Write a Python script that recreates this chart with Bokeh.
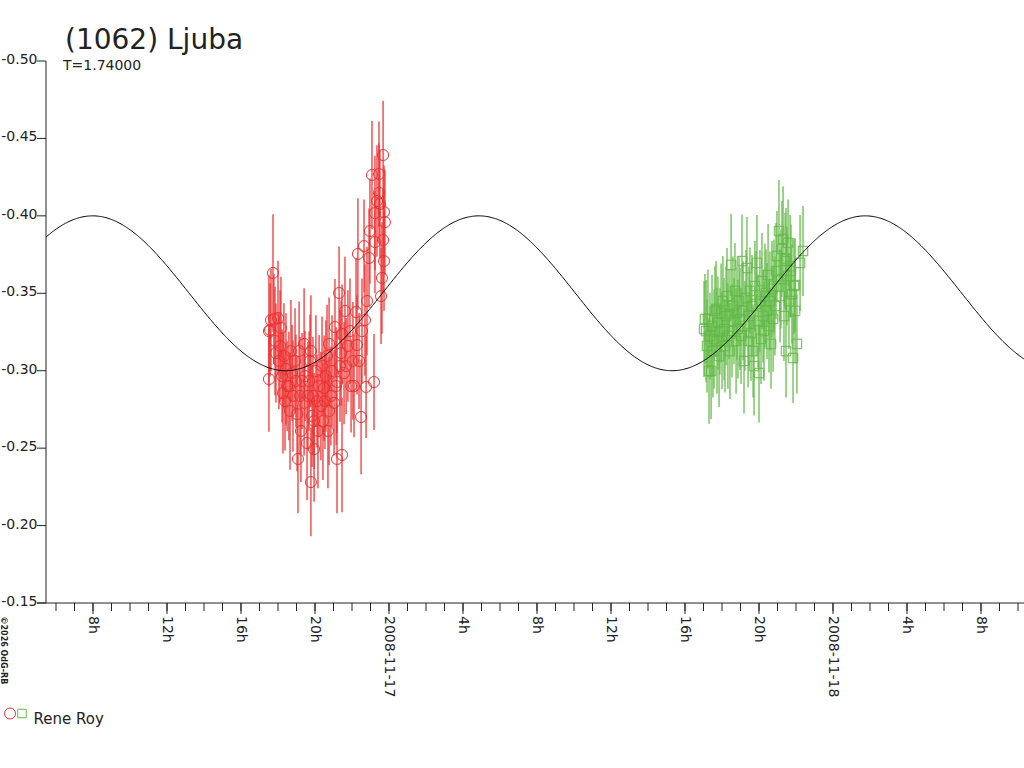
import math
import numpy as np
from bokeh.plotting import figure
from bokeh.models import ColumnDataSource, Range1d, Label
from bokeh.core.properties import value
from bokeh.embed import file_html
from bokeh.resources import INLINE

TITLE = "(1062) Ljuba"
PERIOD_TEXT = "T=1.74000"
OBSERVER = "Rene Roy"
COPYRIGHT = "\u00a92026 OdG-RB"

# time axis: hours since 2008-11-17 00:00 UT ; y: relative magnitude
RED_HOURS = [
    -6.49, -6.49, -6.43, -6.38, -6.27, -6.22, -6.16, -6.11, -6.00, -5.95,
    -5.89, -5.84, -5.78, -5.73, -5.68, -5.62, -5.57, -5.51, -5.41, -5.35,
    -5.30, -5.24, -5.19, -5.08, -5.03, -4.97, -4.92, -4.86, -4.81, -4.76,
    -4.70, -4.59, -4.59, -4.54, -4.43, -4.38, -4.32, -4.27, -4.22, -4.22,
    -4.16, -4.11, -4.05, -4.05, -3.95, -3.89, -3.84, -3.78, -3.68, -3.62,
    -3.57, -3.51, -3.46, -3.41, -3.35, -3.30, -3.24, -3.24, -3.14, -3.08,
    -2.97, -2.92, -2.86, -2.81, -2.81, -2.70, -2.65, -2.59, -2.54, -2.54,
    -2.43, -2.38, -2.32, -2.22, -2.11, -2.05, -1.95, -1.89, -1.78, -1.73,
    -1.68, -1.62, -1.51, -1.46, -1.35, -1.30, -1.24, -1.19, -1.08, -1.03,
    -0.92, -0.81, -0.76, -0.76, -0.65, -0.54, -0.54, -0.49, -0.43, -0.38,
    -0.32, -0.32, -0.27, -0.22, -0.27,
]
RED_MAG = [
    -0.2946, -0.3256, -0.3263, -0.3327, -0.3631, -0.3334, -0.3192, -0.3114, -0.3340, -0.3063,
    -0.3160, -0.3276, -0.2966, -0.2856, -0.3095, -0.2804, -0.3011, -0.2901, -0.2901, -0.2740,
    -0.3127, -0.2985, -0.2837, -0.3063, -0.2934, -0.2720, -0.2430, -0.3127, -0.2837, -0.2611,
    -0.2934, -0.3173, -0.2792, -0.2966, -0.2533, -0.2837, -0.2934, -0.3063, -0.3127, -0.2281,
    -0.2708, -0.2837, -0.2675, -0.2494, -0.2998, -0.2804, -0.2611, -0.2901, -0.2772, -0.3030,
    -0.2675, -0.2888, -0.2804, -0.2966, -0.3095, -0.2611, -0.3173, -0.2740, -0.2837, -0.2998,
    -0.2792, -0.3282, -0.2901, -0.2927, -0.2430, -0.3502, -0.3030, -0.3114, -0.3237, -0.2456,
    -0.2985, -0.3386, -0.3030, -0.3160, -0.3256, -0.2901, -0.3063, -0.2901, -0.3379, -0.3166,
    -0.3754, -0.3063, -0.2701, -0.3256, -0.3805, -0.3327, -0.2895, -0.3450, -0.3728, -0.3902,
    -0.4264, -0.2927, -0.4018, -0.3831, -0.4096, -0.4270, -0.4148, -0.4077, -0.3482, -0.3599,
    -0.3844, -0.4393, -0.4025, -0.3960, -0.3708,
]
RED_ERR = [
    0.034, 0.036, 0.030, 0.033, 0.038, 0.029, 0.035, 0.032, 0.037, 0.031,
    0.036, 0.033, 0.030, 0.039, 0.034, 0.032, 0.036, 0.029, 0.035, 0.038,
    0.033, 0.031, 0.036, 0.034, 0.030, 0.037, 0.035, 0.032, 0.038, 0.033,
    0.031, 0.036, 0.034, 0.029, 0.037, 0.035, 0.032, 0.030, 0.036, 0.035,
    0.033, 0.038, 0.031, 0.034, 0.036, 0.030, 0.037, 0.033, 0.035, 0.032,
    0.038, 0.034, 0.031, 0.036, 0.033, 0.037, 0.030, 0.035, 0.032, 0.036,
    0.034, 0.031, 0.038, 0.033, 0.035, 0.030, 0.036, 0.034, 0.032, 0.037,
    0.033, 0.035, 0.031, 0.036, 0.034, 0.030, 0.038, 0.033, 0.035, 0.032,
    0.036, 0.031, 0.037, 0.034, 0.030, 0.036, 0.033, 0.035, 0.032, 0.034,
    0.035, 0.031, 0.037, 0.033, 0.036, 0.034, 0.032, 0.035, 0.031, 0.036,
    0.033, 0.035, 0.030, 0.034, 0.032,
]

GREEN_HOURS = [
    17.03, 17.08, 17.14, 17.19, 17.24, 17.30, 17.35, 17.41, 17.46, 17.51,
    17.57, 17.62, 17.68, 17.73, 17.78, 17.84, 17.89, 17.95, 18.00, 18.05,
    18.11, 18.16, 18.22, 18.27, 18.32, 18.38, 18.43, 18.49, 18.54, 18.59,
    18.65, 18.70, 18.76, 18.81, 18.86, 18.92, 18.97, 19.03, 19.08, 19.14,
    19.19, 19.24, 19.30, 19.35, 19.41, 19.46, 19.51, 19.57, 19.62, 19.68,
    19.73, 19.78, 19.84, 19.89, 19.95, 20.00, 20.05, 20.11, 20.16, 20.22,
    20.27, 20.32, 20.38, 20.43, 20.49, 20.54, 20.59, 20.65, 20.70, 20.76,
    20.81, 20.86, 20.92, 20.97, 21.08, 21.14, 21.19, 21.24, 21.30, 21.35,
    21.41, 21.46, 21.46, 21.51, 21.57, 21.62, 21.68, 21.73, 21.78, 21.84,
    21.89, 21.95, 21.95, 22.05, 22.22, 22.38,
]
GREEN_MAG = [
    -0.3269, -0.3334, -0.3256, -0.3160, -0.3334, -0.2998, -0.3224, -0.2998, -0.3289, -0.3127,
    -0.3205, -0.3386, -0.3399, -0.3192, -0.3308, -0.3095, -0.3256, -0.3373, -0.3192, -0.3450,
    -0.3269, -0.3160, -0.3353, -0.3482, -0.3224, -0.3366, -0.3127, -0.3683, -0.3256, -0.3418,
    -0.3321, -0.3515, -0.3192, -0.3373, -0.3269, -0.3450, -0.3334, -0.3224, -0.3708, -0.3386,
    -0.3063, -0.3289, -0.3470, -0.3663, -0.3192, -0.3353, -0.3515, -0.3243, -0.3418, -0.3127,
    -0.3030, -0.3547, -0.3431, -0.3696, -0.3321, -0.2985, -0.3450, -0.3205, -0.3579, -0.3353,
    -0.3256, -0.3482, -0.3502, -0.3386, -0.3618, -0.3289, -0.3450, -0.3173, -0.3528, -0.3334,
    -0.3547, -0.3418, -0.3644, -0.3741, -0.3902, -0.3482, -0.3592, -0.3786, -0.3851, -0.3353,
    -0.3708, -0.3721, -0.3127, -0.3612, -0.3825, -0.3450, -0.3676, -0.3644, -0.3495, -0.3082,
    -0.3547, -0.3386, -0.3553, -0.3173, -0.3696, -0.3773,
]
GREEN_ERR = [
    0.031, 0.029, 0.033, 0.030, 0.032, 0.034, 0.028, 0.031, 0.033, 0.030,
    0.032, 0.029, 0.031, 0.034, 0.030, 0.033, 0.028, 0.032, 0.031, 0.029,
    0.033, 0.030, 0.032, 0.031, 0.034, 0.029, 0.031, 0.033, 0.030, 0.032,
    0.028, 0.031, 0.034, 0.030, 0.032, 0.029, 0.033, 0.031, 0.030, 0.032,
    0.034, 0.029, 0.031, 0.033, 0.030, 0.032, 0.028, 0.031, 0.033, 0.030,
    0.032, 0.029, 0.034, 0.031, 0.030, 0.032, 0.033, 0.029, 0.031, 0.030,
    0.032, 0.034, 0.028, 0.031, 0.033, 0.030, 0.032, 0.029, 0.031, 0.034,
    0.030, 0.032, 0.031, 0.029, 0.033, 0.030, 0.032, 0.031, 0.034, 0.029,
    0.031, 0.033, 0.030, 0.032, 0.028, 0.031, 0.033, 0.030, 0.032, 0.029,
    0.031, 0.034, 0.030, 0.032, 0.031, 0.029,
]

# fitted lightcurve model (double-wave, period T)
PERIOD_DAYS = 1.74
FIT_MEAN = -0.35
FIT_AMP = 0.05
FIT_EPOCH_H = 4.86

X_TICKS = [-16, -12, -8, -4, 0, 4, 8, 12, 16, 20, 24, 28, 32]
X_TICK_LABELS = ["8h", "12h", "16h", "20h", "2008-11-17", "4h", "8h",
                 "12h", "16h", "20h", "2008-11-18", "4h", "8h"]
X_MINOR_TICKS = list(range(-18, 35))
Y_TICKS = [-0.50, -0.45, -0.40, -0.35, -0.30, -0.25, -0.20, -0.15]
Y_TICK_LABELS = ["-0.50", "-0.45", "-0.40", "-0.35", "-0.30", "-0.25", "-0.20", "-0.15"]
Y_AXIS_TOP, Y_AXIS_BOTTOM = -0.50, -0.15

RED = "#ee3030"
GREEN = "#62ba46"
INK = "#222222"
FONT = "DejaVu Sans"

# canvas geometry: the frame covers the whole canvas; scale of the data
W, H = 1024, 760
PX_H0, PX_PER_H = 388.5, 18.5          # pixel of hour 0, pixels per hour
PY_TOP, PY_PER_MAG = 60.5, 542 / 0.35  # pixel of -0.50, pixels per magnitude


def px_x(px):
    return (px - PX_H0) / PX_PER_H


def px_y(py):
    return Y_AXIS_TOP + (py - PY_TOP) / PY_PER_MAG


def dx(px):
    return px / PX_PER_H


def dy(px):
    return px / PY_PER_MAG


X_START, X_END = px_x(0), px_x(W)
AXIS_X = px_x(45.5)

p = figure(width=W, height=H, output_backend="svg", toolbar_location=None,
           title=None, x_axis_location=None, y_axis_location=None,
           x_range=Range1d(X_START, X_END), y_range=Range1d(px_y(H), px_y(0)),
           min_border=0)
p.outline_line_color = None
p.grid.visible = False
p.background_fill_color = "white"
p.border_fill_color = "white"

# axes
p.segment(x0=[AXIS_X], y0=[Y_AXIS_TOP], x1=[AXIS_X], y1=[Y_AXIS_BOTTOM],
          line_color=INK, line_width=1)
p.segment(x0=[px_x(36.5)], y0=[Y_AXIS_BOTTOM], x1=[X_END], y1=[Y_AXIS_BOTTOM],
          line_color=INK, line_width=1)
p.segment(x0=[AXIS_X - dx(9)] * len(Y_TICKS), y0=Y_TICKS,
          x1=[AXIS_X] * len(Y_TICKS), y1=Y_TICKS, line_color=INK, line_width=1)
p.segment(x0=X_MINOR_TICKS, y0=[Y_AXIS_BOTTOM] * len(X_MINOR_TICKS),
          x1=X_MINOR_TICKS, y1=[Y_AXIS_BOTTOM + dy(8)] * len(X_MINOR_TICKS),
          line_color=INK, line_width=1)
p.segment(x0=X_TICKS, y0=[Y_AXIS_BOTTOM] * len(X_TICKS),
          x1=X_TICKS, y1=[Y_AXIS_BOTTOM + dy(11)] * len(X_TICKS),
          line_color=INK, line_width=1)

p.text(x=[px_x(37)] * len(Y_TICKS), y=[v - dy(2) for v in Y_TICKS], text=Y_TICK_LABELS,
       text_font=value(FONT), text_font_size="14px", text_color=INK,
       text_align="right", text_baseline="alphabetic")
p.text(x=[v + dx(1) for v in X_TICKS], y=[Y_AXIS_BOTTOM + dy(13)] * len(X_TICKS),
       text=X_TICK_LABELS, angle=-math.pi / 2,
       text_font=value(FONT), text_font_size="14px", text_color=INK,
       text_align="left", text_baseline="alphabetic")

# data
red_src = ColumnDataSource(dict(
    h=RED_HOURS, m=RED_MAG,
    lo=[m - e for m, e in zip(RED_MAG, RED_ERR)],
    hi=[m + e for m, e in zip(RED_MAG, RED_ERR)]))
green_src = ColumnDataSource(dict(
    h=GREEN_HOURS, m=GREEN_MAG,
    lo=[m - e for m, e in zip(GREEN_MAG, GREEN_ERR)],
    hi=[m + e for m, e in zip(GREEN_MAG, GREEN_ERR)]))

p.segment(x0="h", y0="lo", x1="h", y1="hi", source=red_src, line_color=RED, line_width=1.25)
p.scatter("h", "m", source=red_src, marker="circle", size=11, fill_color=None,
          line_color=RED, line_width=1)
p.segment(x0="h", y0="lo", x1="h", y1="hi", source=green_src, line_color=GREEN, line_width=1.25)
p.scatter("h", "m", source=green_src, marker="square", size=9.5, fill_color=None,
          line_color=GREEN, line_width=1)

period_h = PERIOD_DAYS * 24.0
t = np.linspace(AXIS_X, X_END, 900)
model = FIT_MEAN - FIT_AMP * np.cos(4 * np.pi * (t - FIT_EPOCH_H) / period_h)
p.line(t, model, line_color="black", line_width=1)

# texts
p.add_layout(Label(x=px_x(64.5), y=px_y(38.5), text=TITLE, text_font=FONT,
                   text_font_size="28px", text_color=INK,
                   text_align="left", text_baseline="alphabetic"))
p.add_layout(Label(x=px_x(62.5), y=px_y(64), text=PERIOD_TEXT, text_font=FONT,
                   text_font_size="14px", text_color=INK,
                   text_align="left", text_baseline="alphabetic"))
p.add_layout(Label(x=px_x(3), y=px_y(616), text=COPYRIGHT, angle=-math.pi / 2,
                   text_font=FONT, text_font_size="8px", text_font_style="bold",
                   text_color=INK, text_align="left", text_baseline="alphabetic"))

# legend
p.scatter([px_x(9.5)], [px_y(713)], marker="circle", size=11, fill_color=None,
          line_color=RED, line_width=1)
p.scatter([px_x(21.5)], [px_y(713)], marker="square", size=8.5, fill_color=None,
          line_color=GREEN, line_width=1)
p.add_layout(Label(x=px_x(33), y=px_y(718), text=OBSERVER, text_font=FONT,
                   text_font_size="15px", text_color=INK,
                   text_align="left", text_baseline="alphabetic"))

open("out.html", "w").write(file_html(p, INLINE))
